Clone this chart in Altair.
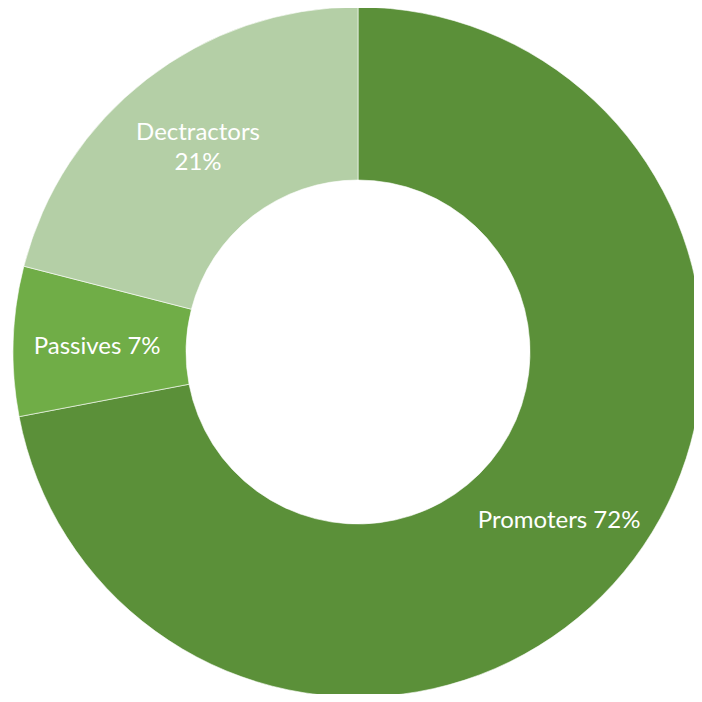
import altair as alt
import pandas as pd

categories = ["Promoters", "Passives", "Dectractors"]
values = [72, 7, 21]
labels = ["Promoters 72%", "Passives 7%", "Dectractors\n21%"]
colors = ["#5B9039", "#70AD47", "#B4CFA6"]

df = pd.DataFrame({"category": categories, "value": values, "label": labels,
                   "order": list(range(len(categories)))})

base = alt.Chart(df).encode(
    theta=alt.Theta("value:Q", stack=True, scale=alt.Scale(domain=[0, 100])),
    order=alt.Order("order:Q"),
    x=alt.value(350),
    y=alt.value(344),
)

arcs = base.mark_arc(outerRadius=345, innerRadius=172, stroke="white", strokeWidth=0.6).encode(
    color=alt.Color("category:N", scale=alt.Scale(domain=categories, range=colors), legend=None),
)

text_style = dict(radius=261, font="Lato", fontSize=24, color="white",
                  lineBreak="\n", lineHeight=30, align="center", baseline="middle")

text_single = base.mark_text(dy=3, **text_style).encode(
    text="label:N",
    opacity=alt.condition("datum.category == 'Dectractors'", alt.value(0), alt.value(1)),
)

text_multi = base.mark_text(dy=-13, **text_style).encode(
    text="label:N",
    opacity=alt.condition("datum.category == 'Dectractors'", alt.value(1), alt.value(0)),
)

chart = (arcs + text_single + text_multi).properties(
    width=686, height=686, padding=0, autosize=alt.AutoSizeParams(type="none")
).configure_view(stroke=None)

chart.save("out.html", embed_options={"renderer": "svg", "actions": False})
